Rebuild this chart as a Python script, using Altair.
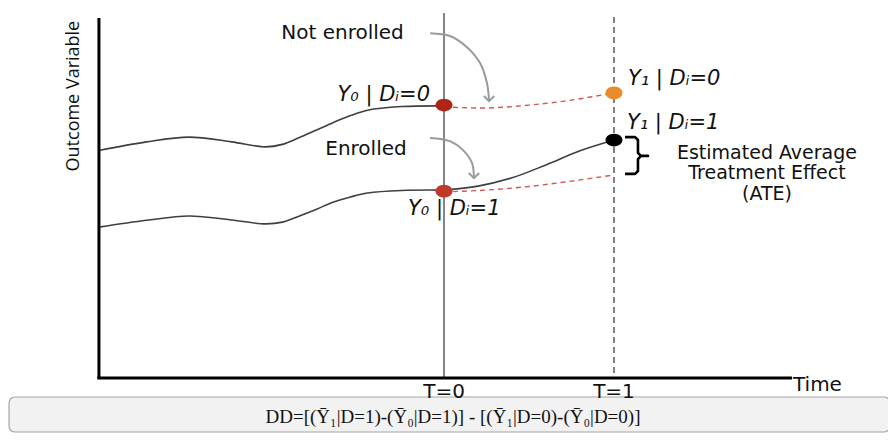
import altair as alt
import pandas as pd

# ---------------- data (time T, outcome V) ----------------
pre_time = [-2.03, -1.75, -1.5, -1.25, -1.05, -0.95, -0.85, -0.75, -0.65, -0.55, -0.45, -0.25, 0.0]
control_pre = [6.32, 6.56, 6.69, 6.56, 6.42, 6.49, 6.68, 6.89, 7.10, 7.29, 7.44, 7.54, 7.56]
treated_pre = [4.19, 4.38, 4.50, 4.39, 4.28, 4.33, 4.50, 4.69, 4.89, 5.03, 5.14, 5.21, 5.22]

post_time = [0.0, 0.2, 0.4, 0.6, 0.8, 1.0]
treated_post = [5.22, 5.33, 5.56, 5.92, 6.31, 6.61]

cf_time = [0.0, 0.25, 0.5, 0.75, 1.0]
control_cf = [7.53, 7.50, 7.58, 7.72, 7.92]
treated_cf = [5.17, 5.22, 5.32, 5.47, 5.64]

point_time = [0, 0, 1, 1]
point_value = [7.58, 5.19, 7.92, 6.61]
point_color = ["#AE2417", "#BF3A2A", "#EA8B2C", "#000000"]

arrow_top_t = [-0.082, 0.035, 0.135, 0.212, 0.253, 0.265]
arrow_top_v = [9.58, 9.50, 9.19, 8.75, 8.19, 7.69]
arrow_bot_t = [-0.082, 0.035, 0.112, 0.165, 0.176]
arrow_bot_v = [6.67, 6.58, 6.33, 5.97, 5.55]

brace_t = [1.065, 1.124, 1.141, 1.141, 1.159, 1.2, 1.159, 1.141, 1.141, 1.124, 1.065]
brace_v = [6.69, 6.69, 6.61, 6.25, 6.17, 6.17, 6.17, 6.08, 5.75, 5.67, 5.67]

labels_plain = ["Not enrolled", "Enrolled", "Estimated Average", "Treatment Effect", "(ATE)", "T=0", "T=1"]
labels_plain_t = [-0.597, -0.459, 1.9, 1.9, 1.9, 0.0, 1.0]
labels_plain_v = [9.58, 6.36, 6.26, 5.69, 5.12, -0.38, -0.38]
labels_plain_size = [20, 20, 19, 19, 19, 20, 20]

labels_ital = ["Y\u2080 | D\u1d62=0", "Y\u2080 | D\u1d62=1", "Y\u2081 | D\u1d62=0", "Y\u2081 | D\u1d62=1"]
labels_ital_t = [-0.082, -0.212, 1.082, 1.076]
labels_ital_v = [7.86, 4.69, 8.31, 7.08]
labels_ital_align = ["right", "left", "left", "left"]

y_title = "Outcome Variable"
formula = "DD=[(\u0232\u2081|D=1)-(\u0232\u2080|D=1)] - [(\u0232\u2081|D=0)-(\u0232\u2080|D=0)]"

# ---------------- scales ----------------
xs = alt.Scale(domain=[-2.565, 2.612], nice=False, zero=False)
ys = alt.Scale(domain=[-1.528, 10.278], nice=False, zero=False)
X = lambda f="T": alt.X(f"{f}:Q", scale=xs, axis=None)
Y = lambda f="V": alt.Y(f"{f}:Q", scale=ys, axis=None)

def df_line(t, v):
    return pd.DataFrame({"T": t, "V": v, "i": list(range(len(t)))})

# box
box = alt.Chart(pd.DataFrame({"T": [-2.559], "T2": [2.624], "V": [-0.528], "V2": [-1.50]})).mark_rect(
    fill="#F2F2F2", stroke="#A6A6A6", strokeWidth=1.2, cornerRadius=6
).encode(x=X(), x2="T2:Q", y=Y(), y2="V2:Q")

# vertical time guides
g0 = alt.Chart(pd.DataFrame({"T": [0.0], "V": [0.0], "V2": [10.14]})).mark_rule(
    color="#858585", strokeWidth=2
).encode(x=X(), y=Y(), y2="V2:Q")
g1 = alt.Chart(pd.DataFrame({"T": [1.0], "V": [0.14], "V2": [10.14]})).mark_rule(
    color="#808080", strokeWidth=2, strokeDash=[6, 4]
).encode(x=X(), y=Y(), y2="V2:Q")

# axes
yaxis = alt.Chart(pd.DataFrame({"T": [-2.03], "V": [0.0], "V2": [10.0]})).mark_rule(
    color="#000000", strokeWidth=3
).encode(x=X(), y=Y(), y2="V2:Q")
xaxis = alt.Chart(pd.DataFrame({"T": [-2.04], "T2": [2.047], "V": [0.0]})).mark_rule(
    color="#000000", strokeWidth=3
).encode(x=X(), x2="T2:Q", y=Y())

def curve(t, v, color, width, dash=None, interp="catmull-rom"):
    kw = dict(color=color, strokeWidth=width, interpolate=interp)
    if dash:
        kw["strokeDash"] = dash
    return alt.Chart(df_line(t, v)).mark_line(**kw).encode(x=X(), y=Y(), order="i:Q")

c1 = curve(pre_time, control_pre, "#3F3F3F", 1.6)
c2 = curve(pre_time, treated_pre, "#3F3F3F", 1.6)
c3 = curve(post_time, treated_post, "#3F3F3F", 1.6)
c4 = curve(cf_time, control_cf, "#D2584B", 1.4, [5, 4])
c5 = curve(cf_time, treated_cf, "#D2584B", 1.4, [5, 4])

a1 = curve(arrow_top_t, arrow_top_v, "#9A9A9A", 2)
a2 = curve(arrow_bot_t, arrow_bot_v, "#9A9A9A", 2)
heads = alt.Chart(pd.DataFrame({"T": [arrow_top_t[-1], arrow_bot_t[-1]],
                                "V": [arrow_top_v[-1], arrow_bot_v[-1]]})).mark_point(
    shape="M-1,-1L0,0L1,-1", filled=False, size=110, color="#9A9A9A", strokeWidth=2, opacity=1
).encode(x=X(), y=Y())

brace = alt.Chart(df_line(brace_t, brace_v)).mark_line(
    color="#000000", strokeWidth=2.6, strokeJoin="round"
).encode(x=X(), y=Y(), order="i:Q")

ELLIPSE = "M-1,0A1,0.75,0,1,1,1,0A1,0.75,0,1,1,-1,0Z"
dots = alt.Chart(pd.DataFrame({"T": point_time, "V": point_value, "c": point_color})).mark_point(
    shape=ELLIPSE, filled=True, size=289, opacity=1
).encode(x=X(), y=Y(), color=alt.Color("c:N", scale=None))

plain = alt.Chart(pd.DataFrame({"txt": labels_plain, "T": labels_plain_t, "V": labels_plain_v,
                                "s": labels_plain_size})).mark_text(
    font="DejaVu Sans", baseline="middle", align="center", color="#111111"
).encode(x=X(), y=Y(), text="txt:N", size=alt.Size("s:Q", scale=None))

time_lbl = alt.Chart(pd.DataFrame({"txt": ["Time"], "T": [2.053], "V": [-0.19]})).mark_text(
    font="DejaVu Sans", fontSize=20, baseline="middle", align="left", color="#111111"
).encode(x=X(), y=Y(), text="txt:N")

ital_df = pd.DataFrame({"txt": labels_ital, "T": labels_ital_t, "V": labels_ital_v, "a": labels_ital_align})
ital = alt.Chart(ital_df).transform_filter("datum.a == 'left'").mark_text(
    font="DejaVu Sans", fontStyle="italic", fontSize=21, baseline="middle", align="left", color="#111111"
).encode(x=X(), y=Y(), text="txt:N")
ital_r = alt.Chart(ital_df).transform_filter("datum.a == 'right'").mark_text(
    font="DejaVu Sans", fontStyle="italic", fontSize=21, baseline="middle", align="right", color="#111111"
).encode(x=X(), y=Y(), text="txt:N")

ytitle = alt.Chart(pd.DataFrame({"txt": [y_title], "T": [-2.176], "V": [7.83]})).mark_text(
    font="Open Sans", fontSize=18, angle=270, baseline="middle", align="center", color="#111111"
).encode(x=X(), y=Y(), text="txt:N")

ftext = alt.Chart(pd.DataFrame({"txt": [formula], "T": [0.053], "V": [-1.08]})).mark_text(
    font="Liberation Serif", fontSize=19, baseline="middle", align="center", color="#111111"
).encode(x=X(), y=Y(), text="txt:N")

chart = alt.layer(
    box, g0, g1, c1, c2, c3, c4, c5, a1, a2, heads, brace, dots, yaxis, xaxis,
    plain, time_lbl, ital, ital_r, ytitle, ftext
).properties(
    width=880, height=425, padding=0, autosize=alt.AutoSizeParams(type="none"), background="white"
).configure_view(stroke=None)

chart.save("out.html", embed_options={"renderer": "svg", "actions": False})
